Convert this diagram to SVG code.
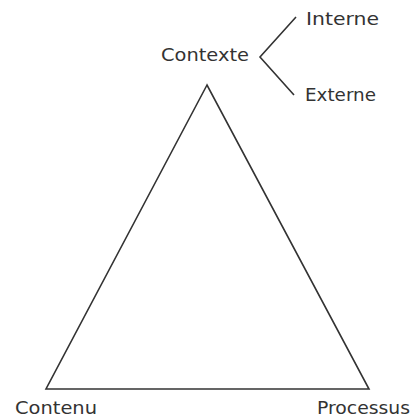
<svg xmlns="http://www.w3.org/2000/svg" width="414" height="418" viewBox="0 0 414 418">
<style>
.t{font-family:"DejaVu Sans","Liberation Sans",sans-serif;font-size:18px;fill:#333;}
.l{fill:none;stroke:#333;stroke-width:1.6;stroke-linejoin:miter;}
</style>
<rect width="414" height="418" fill="#fff"/>
<g id="connectors">
<polygon class="l" points="207,85 46,389 369,389"/>
<polyline class="l" points="296,17 260,57 294,95"/>
</g>
<g id="contexte"><text class="t" x="161" y="61" textLength="88" lengthAdjust="spacingAndGlyphs">Contexte</text></g>
<g id="interne"><text class="t" x="306" y="25" textLength="73" lengthAdjust="spacingAndGlyphs">Interne</text></g>
<g id="externe"><text class="t" x="305" y="101" textLength="71" lengthAdjust="spacingAndGlyphs">Externe</text></g>
<g id="contenu"><text class="t" x="15" y="414" textLength="82" lengthAdjust="spacingAndGlyphs">Contenu</text></g>
<g id="processus"><text class="t" x="317" y="414" textLength="93" lengthAdjust="spacingAndGlyphs">Processus</text></g>
</svg>
